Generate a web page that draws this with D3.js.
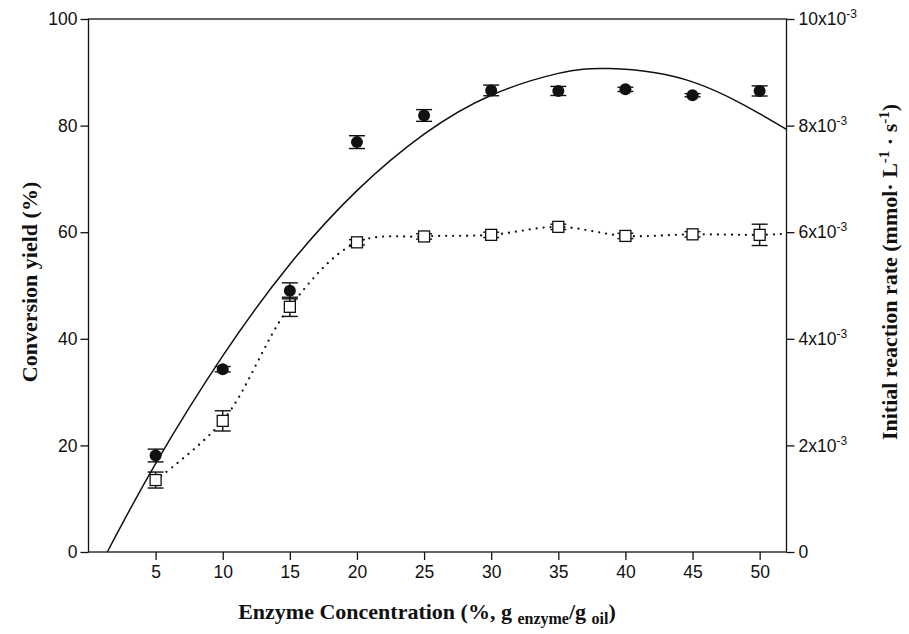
<!DOCTYPE html>
<html>
<head>
<meta charset="utf-8">
<script src="https://cdn.jsdelivr.net/npm/d3@7"></script>
<style>
  body { margin: 0; background: #fff; }
  .tick text { font-family: "Liberation Sans", Arial, sans-serif; font-size: 17.5px; fill: #111; }
  .ttl { font-family: "Liberation Serif", "Times New Roman", serif; font-weight: bold; fill: #111; }
</style>
</head>
<body>
<div id="chart"></div>
<script>
// data
var conc = [5, 10, 15, 20, 25, 30, 35, 40, 45, 50];
var yieldVal = [18.1, 34.3, 49.0, 76.9, 81.9, 86.6, 86.5, 86.8, 85.7, 86.5];
var yieldErr = [1.2, 0.5, 1.5, 1.2, 1.1, 1.0, 0.85, 0.4, 0.3, 0.95];
var rateVal = [0.00135, 0.00246, 0.00460, 0.00581, 0.00592, 0.00595, 0.00610, 0.00593, 0.00596, 0.00595];
var rateErr = [0.00015, 0.00019, 0.00018, 0.00005, 0.00005, 0.00005, 0.00005, 0.00005, 0.00005, 0.00020];
// fitted curve (solid)
var fitX = [1.4, 5, 10, 15, 20, 25, 30, 35, 38.8, 45, 52];
var fitY = [0, 16.6, 36.8, 54.0, 67.8, 78.4, 85.7, 89.8, 90.7, 88.2, 79.3];
// dotted trend through the rate points, runs on to the right axis
var trendX = [5, 10, 15, 20, 25, 30, 35, 40, 45, 50, 52];
var trendY = [0.00135, 0.00246, 0.00460, 0.00581, 0.00592, 0.00595, 0.00610, 0.00593, 0.00596, 0.00595, 0.00597];
var xTicks = [5, 10, 15, 20, 25, 30, 35, 40, 45, 50];
var leftTicks = [0, 20, 40, 60, 80, 100];
var rightTicks = [0, 0.002, 0.004, 0.006, 0.008, 0.010];

var width = 909, height = 634;
var pL = 88.5, pR = 786.5, pT = 19, pB = 552;

var svg = d3.select("#chart").append("svg")
    .attr("width", width)
    .attr("height", height);

var x = d3.scaleLinear().domain([0, 52]).range([pL, pR]);
var yL = d3.scaleLinear().domain([0, 100]).range([pB, pT]);
var yR = d3.scaleLinear().domain([0, 0.01]).range([pB, pT]);

// frame
svg.append("rect")
    .attr("x", pL).attr("y", pT)
    .attr("width", pR - pL).attr("height", pB - pT)
    .attr("fill", "none").attr("stroke", "#111").attr("stroke-width", 1.3);

var gx = svg.append("g")
    .attr("transform", "translate(0," + pB + ")")
    .call(d3.axisBottom(x).tickValues(xTicks).tickSize(8).tickPadding(6));
var gl = svg.append("g")
    .attr("transform", "translate(" + pL + ",0)")
    .call(d3.axisLeft(yL).tickValues(leftTicks).tickSize(8).tickPadding(3));
var gr = svg.append("g")
    .attr("transform", "translate(" + pR + ",0)")
    .call(d3.axisRight(yR).tickValues(rightTicks).tickSize(8).tickPadding(4).tickFormat(""));

[gx, gl, gr].forEach(function(g) {
  g.select(".domain").remove();
  g.selectAll(".tick line").attr("stroke", "#111").attr("stroke-width", 1.3);
});

// right tick labels with superscript
gr.selectAll(".tick text").each(function(d) {
  var t = d3.select(this);
  if (d === 0) { t.text("0"); return; }
  t.append("tspan").text(Math.round(d * 1000) + "x10");
  t.append("tspan").attr("dy", -7).attr("font-size", "12px").text("-3");
});

// fitted curve
var fitLine = d3.line()
    .x(function(d, i) { return x(fitX[i]); })
    .y(function(d) { return yL(d); })
    .curve(d3.curveNatural);
svg.append("path")
    .attr("d", fitLine(fitY))
    .attr("fill", "none").attr("stroke", "#111").attr("stroke-width", 1.5);

// dotted trend
var trendLine = d3.line()
    .x(function(d, i) { return x(trendX[i]); })
    .y(function(d) { return yR(d); })
    .curve(d3.curveCatmullRom);
svg.append("path")
    .attr("d", trendLine(trendY))
    .attr("fill", "none").attr("stroke", "#111").attr("stroke-width", 2.3)
    .attr("stroke-linecap", "round")
    .attr("stroke-dasharray", "0,7");

function errBars(vals, errs, y) {
  var g = svg.append("g").attr("stroke", "#111").attr("stroke-width", 1.4);
  vals.forEach(function(v, i) {
    var cx = x(conc[i]);
    g.append("line").attr("x1", cx).attr("x2", cx).attr("y1", y(v - errs[i])).attr("y2", y(v + errs[i]));
    [v - errs[i], v + errs[i]].forEach(function(e) {
      g.append("line").attr("x1", cx - 8).attr("x2", cx + 8).attr("y1", y(e)).attr("y2", y(e));
    });
  });
}

errBars(rateVal, rateErr, yR);
svg.selectAll(".sq").data(rateVal).enter().append("rect")
    .attr("class", "sq")
    .attr("x", function(d, i) { return x(conc[i]) - 5.5; })
    .attr("y", function(d) { return yR(d) - 5.5; })
    .attr("width", 11).attr("height", 11)
    .attr("fill", "#fff").attr("stroke", "#111").attr("stroke-width", 1.3);

errBars(yieldVal, yieldErr, yL);
svg.selectAll(".dot").data(yieldVal).enter().append("circle")
    .attr("class", "dot")
    .attr("cx", function(d, i) { return x(conc[i]); })
    .attr("cy", function(d) { return yL(d); })
    .attr("r", 6)
    .attr("fill", "#111");

// axis titles
var xt = svg.append("text").attr("class", "ttl")
    .attr("x", 427).attr("y", 619)
    .attr("text-anchor", "middle")
    .attr("font-size", "22px");
xt.append("tspan").text("Enzyme Concentration (%, g ");
xt.append("tspan").attr("font-size", "16px").attr("dy", 5).text("enzyme");
xt.append("tspan").attr("dy", -5).text("/g ");
xt.append("tspan").attr("font-size", "16px").attr("dy", 5).text("oil");
xt.append("tspan").attr("dy", -5).text(")");

svg.append("text").attr("class", "ttl")
    .attr("transform", "translate(37,282) rotate(-90)")
    .attr("text-anchor", "middle")
    .attr("font-size", "22px")
    .text("Conversion yield (%)");

var rt = svg.append("text").attr("class", "ttl")
    .attr("transform", "translate(897,272) rotate(-90)")
    .attr("text-anchor", "middle")
    .attr("font-size", "22px");
rt.append("tspan").text("Initial reaction rate (mmol\u00b7 L");
rt.append("tspan").attr("font-size", "15px").attr("dy", -8).text("-1");
rt.append("tspan").attr("dy", 8).text(" \u00b7 s");
rt.append("tspan").attr("font-size", "15px").attr("dy", -8).text("-1");
rt.append("tspan").attr("dy", 8).text(")");
</script>
</body>
</html>
